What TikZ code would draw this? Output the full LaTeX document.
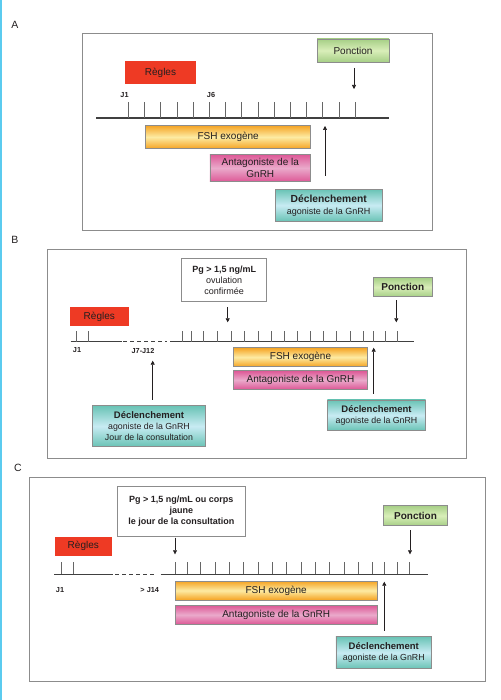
\documentclass[tikz,border=0pt]{standalone}
\usepackage{fontspec}
\setmainfont{Liberation Sans}
\usetikzlibrary{arrows.meta,calc}

\definecolor{regred}{HTML}{EE3A24}
\definecolor{ponedge}{HTML}{A6CF86}
\definecolor{ponmid}{HTML}{D9EEB9}
\definecolor{fshedge}{HTML}{F5A322}
\definecolor{fshmid}{HTML}{FDEBA3}
\definecolor{antedge}{HTML}{DD5896}
\definecolor{antmid}{HTML}{EAAACB}
\definecolor{decedge}{HTML}{69C3B5}
\definecolor{decmid}{HTML}{C8EBF3}
\definecolor{framegray}{HTML}{8C8C8C}
\definecolor{inkdark}{HTML}{231F20}
\definecolor{edgecyan}{HTML}{5BCBEF}

\newcommand{\decltitle}[1]{{\bfseries\fontsize{9.5}{11}\selectfont #1}}
\newcommand{\decltitleA}[1]{{\bfseries\fontsize{10.3}{12}\selectfont #1}}

\begin{document}
\begin{tikzpicture}[x=1pt,y=-1pt,
    box/.style={draw=framegray,line width=0.6pt,inner sep=0pt,align=center,text=inkdark,font=\fontsize{10}{11.5}\selectfont},
    regles/.style={box,draw=none,fill=regred},
    ponction/.style={box,top color=ponedge,bottom color=ponedge,middle color=ponmid},
    fsh/.style={box,top color=fshedge,bottom color=fshedge,middle color=fshmid},
    antag/.style={box,top color=antedge,bottom color=antedge,middle color=antmid},
    decl/.style={box,top color=decedge,bottom color=decedge,middle color=decmid,font=\fontsize{8.8}{11.3}\selectfont},
    pgbox/.style={box,fill=white,font=\fontsize{9}{11}\selectfont},
    panel/.style={inner sep=0pt,text=inkdark,font=\fontsize{10.5}{12}\selectfont},
    day/.style={inner sep=0pt,text=inkdark,font=\bfseries\fontsize{7.3}{8}\selectfont},
    frame/.style={draw=framegray,line width=0.8pt},
    axis/.style={draw=black!75,line width=1.1pt},
    dashpart/.style={axis,dash pattern=on 4pt off 3pt},
    tick/.style={draw=black!60,line width=0.5pt},
    arr/.style={draw=inkdark,line width=0.6pt,-{Triangle[length=4pt,width=4pt]}}]
    \useasboundingbox (0,0) rectangle (500,700);
    \draw[edgecyan,line width=1.5pt] (0.75,0) -- (0.75,700);

    %% Panel A
    \node[panel] (labA) at (15,25) {A};
    \draw[frame] (82,33) rectangle (432,230);
    \node[regles,minimum width=71,minimum height=23] (regA) at (160.5,72.5) {Règles};
    \node[ponction,minimum width=72,minimum height=23] (ponA) at (353,50.5) {Ponction};
    \node[fsh,minimum width=165,minimum height=23.4] (fshA) at (228.2,137) {FSH exogène};
    \node[antag,minimum width=100.7,minimum height=27.4] (antA) at (260.3,168) {Antagoniste de la\\GnRH};
    \node[decl,minimum width=107.3,minimum height=32,font=\fontsize{9}{12}\selectfont] (decA) at (328.7,205.3) {\decltitleA{Déclenchement}\\agoniste de la GnRH};
    %% Timeline A
    \coordinate (axA0) at (96,118);
    \coordinate (axA1) at (389,118);
    \draw[axis] (axA0) -- (axA1);
    \foreach \i in {0,...,14}
        \draw[tick] (128.3+\i*16.2,118) -- ++(0,-16);
    \node[day] (jA1) at (124.5,95) {J1};
    \node[day] (jA6) at (211,95) {J6};
    %% Arrows A
    \coordinate (pA) at (354,89);
    \coordinate (tA) at (325,126);
    \draw[arr] ($(ponA.south)+(1,5.5)$) -- (pA);
    \draw[arr] ($(decA.north)+(-3.7,-13.3)$) -- (tA);

    %% Panel B
    \node[panel] (labB) at (15,240) {B};
    \draw[frame] (47.7,249) rectangle (466.7,458.3);
    \node[pgbox,minimum width=85,minimum height=43.4] (pgB) at (224.2,280) {\textbf{Pg > 1,5 ng/mL}\\ovulation\\confirmée};
    \node[ponction,minimum width=59,minimum height=19,font=\bfseries\fontsize{10}{11.5}\selectfont] (ponB) at (402.8,287.2) {Ponction};
    \node[regles,minimum width=58.7,minimum height=18.4] (regB) at (99.3,316.5) {Règles};
    \node[fsh,minimum width=134.4,minimum height=19] (fshB) at (300.5,357.2) {FSH exogène};
    \node[antag,minimum width=134.4,minimum height=18.6] (antB) at (300.5,380) {Antagoniste de la GnRH};
    \node[decl,minimum width=113.4,minimum height=41] (decB1) at (149,426.2) {\decltitle{Déclenchement}\\agoniste de la GnRH\\Jour de la consultation};
    \node[decl,minimum width=98.4,minimum height=30.7] (decB2) at (376.5,415.3) {\decltitle{Déclenchement}\\agoniste de la GnRH};
    %% Timeline B
    \coordinate (axB0) at (70.7,341.7);
    \coordinate (axB1) at (121.7,341.7);
    \coordinate (axB2) at (123,341.7);
    \coordinate (axB3) at (166.7,341.7);
    \coordinate (axB4) at (170,341.7);
    \coordinate (axB5) at (414.3,341.7);
    \draw[axis] (axB0) -- (axB1);
    \draw[dashpart] (axB2) -- (axB3);
    \draw[axis] (axB4) -- (axB5);
    \foreach \x in {76.5,88.5,182.3,191.7,203.7,217,231.3,244.3,258,271,284.3,297.7,310.7,323.3,336.7,350.3,363.7,373.3,385,397}
        \draw[tick] (\x,341.7) -- ++(0,-11);
    \node[day] (jB1) at (77,350.5) {J1};
    \node[day] (jB7) at (143,350.5) {J7-J12};
    %% Arrows B
    \coordinate (pgtB) at (227.7,322.3);
    \coordinate (pB) at (396.3,322.3);
    \coordinate (tB1) at (152.7,360.7);
    \coordinate (tB2) at (373.7,347.7);
    \draw[arr] ($(pgB.south)+(3.5,5)$) -- (pgtB);
    \draw[arr] ($(ponB.south)+(-6.5,3.3)$) -- (pB);
    \draw[arr] ($(decB1.north)+(3.7,-5.7)$) -- (tB1);
    \draw[arr] ($(decB2.north)+(-2.8,-5.7)$) -- (tB2);

    %% Panel C
    \node[panel] (labC) at (18,468.3) {C};
    \draw[frame] (29,477.7) rectangle (485.7,681.7);
    \node[pgbox,minimum width=127.3,minimum height=49.3,font=\bfseries\fontsize{9}{11}\selectfont] (pgC) at (181.3,511.3) {Pg > 1,5 ng/mL ou corps\\jaune\\le jour de la consultation};
    \node[ponction,minimum width=64.4,minimum height=20,font=\bfseries\fontsize{10}{11.5}\selectfont] (ponC) at (415.5,515.7) {Ponction};
    \node[regles,minimum width=56.7,minimum height=19.3] (regC) at (83.3,546.3) {Règles};
    \node[fsh,minimum width=202.3,minimum height=19] (fshC) at (276.2,590.5) {FSH exogène};
    \node[antag,minimum width=202.3,minimum height=19] (antC) at (276.2,614.8) {Antagoniste de la GnRH};
    \node[decl,minimum width=95.7,minimum height=32] (decC) at (383.8,652.7) {\decltitle{Déclenchement}\\agoniste de la GnRH};
    %% Timeline C
    \coordinate (axC0) at (54.3,574.3);
    \coordinate (axC1) at (112.7,574.3);
    \coordinate (axC2) at (115,574.3);
    \coordinate (axC3) at (156.7,574.3);
    \coordinate (axC4) at (160.7,574.3);
    \coordinate (axC5) at (428.3,574.3);
    \draw[axis] (axC0) -- (axC1);
    \draw[dashpart] (axC2) -- (axC3);
    \draw[axis] (axC4) -- (axC5);
    \foreach \x in {61,73.3,175,187,200.7,215,229.3,243.7,258,272.3,286.7,301,315.3,329.7,344,358.7,372.7,384.3,397,409.3}
        \draw[tick] (\x,574.3) -- ++(0,-12);
    \node[day] (jC1) at (60,590) {J1};
    \node[day] (jC14) at (149.7,590) {> J14};
    %% Arrows C
    \coordinate (pgtC) at (175,554.3);
    \coordinate (pC) at (410,554.3);
    \coordinate (tC) at (384.3,581.7);
    \draw[arr] ($(pgC.south)+(-6.3,1.3)$) -- (pgtC);
    \draw[arr] ($(ponC.south)+(-5.5,4.3)$) -- (pC);
    \draw[arr] ($(decC.north)+(0.5,-5.7)$) -- (tC);
\end{tikzpicture}
\end{document}
